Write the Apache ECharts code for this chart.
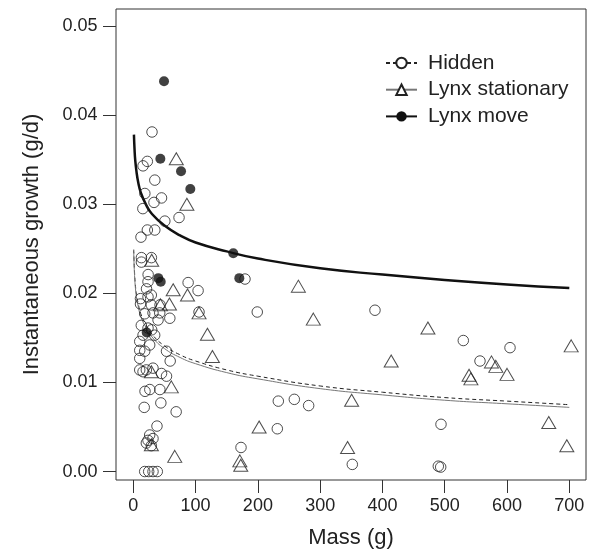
<!DOCTYPE html>
<html>
<head>
<meta charset="utf-8">
<script src="https://cdn.jsdelivr.net/npm/echarts@6/dist/echarts.min.js"></script>
<style>
  html, body { margin: 0; padding: 0; background: #fff; }
  #chart { width: 595px; height: 558px; }
</style>
</head>
<body>
<div id="chart"></div>
<script>
// ticks
const massTicks = [0, 100, 200, 300, 400, 500, 600, 700];
const growthTicks = [0, 0.01, 0.02, 0.03, 0.04, 0.05];

// observations [mass (g), growth (g/d)]
const hiddenPts = [
  [30, 0.0381], [22.5, 0.0348], [15.6, 0.0343], [34.5, 0.0327], [18.5, 0.0312],
  [45.3, 0.0307], [33.2, 0.0302], [15.3, 0.0295], [73.4, 0.0285], [50.6, 0.0281],
  [22.5, 0.0271], [34.5, 0.0271], [12.3, 0.0263], [13, 0.0240], [13, 0.0235],
  [29, 0.0240], [23.8, 0.0221], [23.6, 0.0213], [88, 0.0212], [104, 0.0203],
  [179.3, 0.0216], [21.2, 0.0205], [28.9, 0.0198], [23.6, 0.0196], [11.5, 0.0194],
  [11.5, 0.0188], [28.9, 0.0187], [42.9, 0.0187], [18.3, 0.0177], [31.6, 0.0178],
  [42.4, 0.0178], [39.7, 0.0170], [58.6, 0.0172], [105.5, 0.0179], [199, 0.0179],
  [12.8, 0.0164], [23.6, 0.0161], [29.5, 0.0159], [15.6, 0.0153], [34.3, 0.0153],
  [10.3, 0.0146], [26.3, 0.0142], [10.3, 0.0136], [18.3, 0.0135], [53.3, 0.0135],
  [59.2, 0.0124], [10.3, 0.0127], [10.3, 0.0114], [15.6, 0.0112], [20.9, 0.0114],
  [31.6, 0.0116], [45.3, 0.0110], [53.3, 0.0107], [18.8, 0.0090], [26.5, 0.0092],
  [42.6, 0.0092], [17.5, 0.0072], [44.2, 0.0077], [68.8, 0.0067], [38, 0.0051],
  [26.3, 0.0041], [31.6, 0.0037], [23.6, 0.0035], [20.9, 0.0032], [28.9, 0.0029],
  [18.3, 0], [24.7, 0], [31.6, 0], [38.5, 0],
  [232.8, 0.0079], [258.5, 0.0081], [281.5, 0.0074], [231.2, 0.0048], [172.9, 0.0027],
  [388, 0.0181], [529.8, 0.0147], [556.6, 0.0124], [604.8, 0.0139], [494, 0.0053],
  [351.6, 0.0008], [489.7, 0.0006], [493.5, 0.0005]
];
const stationaryPts = [
  [69, 0.0351], [86, 0.0300], [29.5, 0.0237], [64, 0.0204], [87, 0.0198],
  [43.5, 0.0187], [58, 0.0188], [105.5, 0.0178], [119, 0.0154], [127, 0.0129],
  [29, 0.0112], [61, 0.0095], [29, 0.0030], [66.5, 0.0017], [202, 0.0050],
  [171, 0.0012], [172.5, 0.0007], [265, 0.0208], [289, 0.0171], [473, 0.0161],
  [414, 0.0124], [703, 0.0141], [539, 0.0108], [542, 0.0104], [575, 0.0123],
  [582, 0.0118], [600, 0.0109], [350.5, 0.0080], [667, 0.0055], [696, 0.0029],
  [344, 0.0027]
];
const movePts = [
  [49.3, 0.0438], [43.4, 0.0351], [76.6, 0.0337], [91.5, 0.0317], [160.5, 0.0245],
  [170.2, 0.0217], [40.1, 0.0217], [44, 0.0213], [21.5, 0.0156]
];

// fitted curves
const curveMass = [1, 2, 3, 5, 8, 12, 20, 30, 50, 75, 100, 150, 200, 300, 400, 500, 600, 700];
const moveFit = [0.0378, 0.0361, 0.0350, 0.0337, 0.0324, 0.0313, 0.0300, 0.0289, 0.0276, 0.0265,
  0.0257, 0.0247, 0.0239, 0.0228, 0.0221, 0.0215, 0.0210, 0.0206];
const hiddenFit = [0.0240, 0.0223, 0.0212, 0.0199, 0.0188, 0.0177, 0.0165, 0.0154, 0.0141, 0.0131,
  0.0124, 0.0114, 0.0107, 0.0096, 0.0089, 0.0083, 0.0079, 0.0075];
const stationaryFit = [0.0237, 0.0220, 0.0209, 0.0196, 0.0185, 0.0174, 0.0162, 0.0151, 0.0138, 0.0128,
  0.0121, 0.0111, 0.0104, 0.0093, 0.0086, 0.0080, 0.0076, 0.0072];

const font = "'Liberation Sans', Arial, Helvetica, sans-serif";
const ink = '#222';

const pair = (xs, ys) => xs.map((x, i) => [x, ys[i]]);

const chart = echarts.init(document.getElementById('chart'), null, { renderer: 'canvas' });

chart.setOption({
  animation: false,
  backgroundColor: '#fff',
  textStyle: { fontFamily: font },
  grid: {
    left: 116, right: 9, top: 9, bottom: 78,
    show: true, borderColor: '#333', borderWidth: 1, backgroundColor: 'transparent'
  },
  legend: {
    orient: 'vertical',
    left: 380, top: 47,
    itemWidth: 31, itemHeight: 13, itemGap: 4.7,
    data: ['Hidden', 'Lynx stationary', 'Lynx move'],
    textStyle: { fontFamily: font, fontSize: 21, color: ink, lineHeight: 22, padding: [0, 0, 0, 6] },
    selectedMode: false
  },
  xAxis: {
    type: 'value', min: -27.8, max: 726.8,
    name: 'Mass (g)', nameLocation: 'middle', nameGap: 47,
    nameTextStyle: { fontFamily: font, fontSize: 22, color: ink },
    axisLine: { show: false, onZero: false },
    splitLine: { show: false },
    axisTick: { show: true, inside: false, length: 13, lineStyle: { color: '#333' }, customValues: massTicks },
    axisLabel: { fontFamily: font, fontSize: 18, color: ink, margin: 17, customValues: massTicks }
  },
  yAxis: {
    type: 'value', min: -0.00095, max: 0.0519,
    name: 'Instantaneous growth (g/d)', nameLocation: 'middle', nameGap: 73,
    nameTextStyle: { fontFamily: font, fontSize: 22, color: ink },
    axisLine: { show: false, onZero: false },
    splitLine: { show: false },
    axisTick: { show: true, inside: false, length: 13, lineStyle: { color: '#333' }, customValues: growthTicks },
    axisLabel: {
      fontFamily: font, fontSize: 18, color: ink, margin: 18.5, customValues: growthTicks,
      formatter: v => v.toFixed(2)
    }
  },
  series: [
    {
      name: 'Hidden', type: 'line', smooth: true, showSymbol: false, symbol: 'circle', symbolSize: 10,
      data: pair([0.7].concat(curveMass), [0.0249].concat(hiddenFit)),
      lineStyle: { color: ink, width: 1, type: [4, 3] },
      itemStyle: { color: '#fff', borderColor: ink, borderWidth: 1 },
      z: 2
    },
    {
      name: 'Lynx stationary', type: 'line', smooth: true, showSymbol: false, symbol: 'triangle', symbolSize: 12,
      data: pair([0.7].concat(curveMass), [0.0246].concat(stationaryFit)),
      lineStyle: { color: '#777', width: 1 },
      itemStyle: { color: '#fff', borderColor: ink, borderWidth: 1 },
      z: 2
    },
    {
      name: 'Lynx move', type: 'line', smooth: true, showSymbol: false, symbol: 'circle', symbolSize: 10,
      data: pair(curveMass, moveFit),
      lineStyle: { color: '#111', width: 2.5 },
      itemStyle: { color: '#111' },
      z: 2
    },
    {
      name: 'hiddenObs', type: 'scatter', symbol: 'circle', symbolSize: 10.5,
      data: hiddenPts,
      itemStyle: { color: 'rgba(0,0,0,0)', borderColor: ink, borderWidth: 1 },
      z: 3
    },
    {
      name: 'stationaryObs', type: 'scatter', symbol: 'triangle', symbolSize: [14, 12],
      data: stationaryPts,
      itemStyle: { color: 'rgba(0,0,0,0)', borderColor: ink, borderWidth: 1 },
      z: 3
    },
    {
      name: 'moveObs', type: 'scatter', symbol: 'circle', symbolSize: 10,
      data: movePts,
      itemStyle: { color: '#111' },
      z: 4
    }
  ]
});
</script>
</body>
</html>
